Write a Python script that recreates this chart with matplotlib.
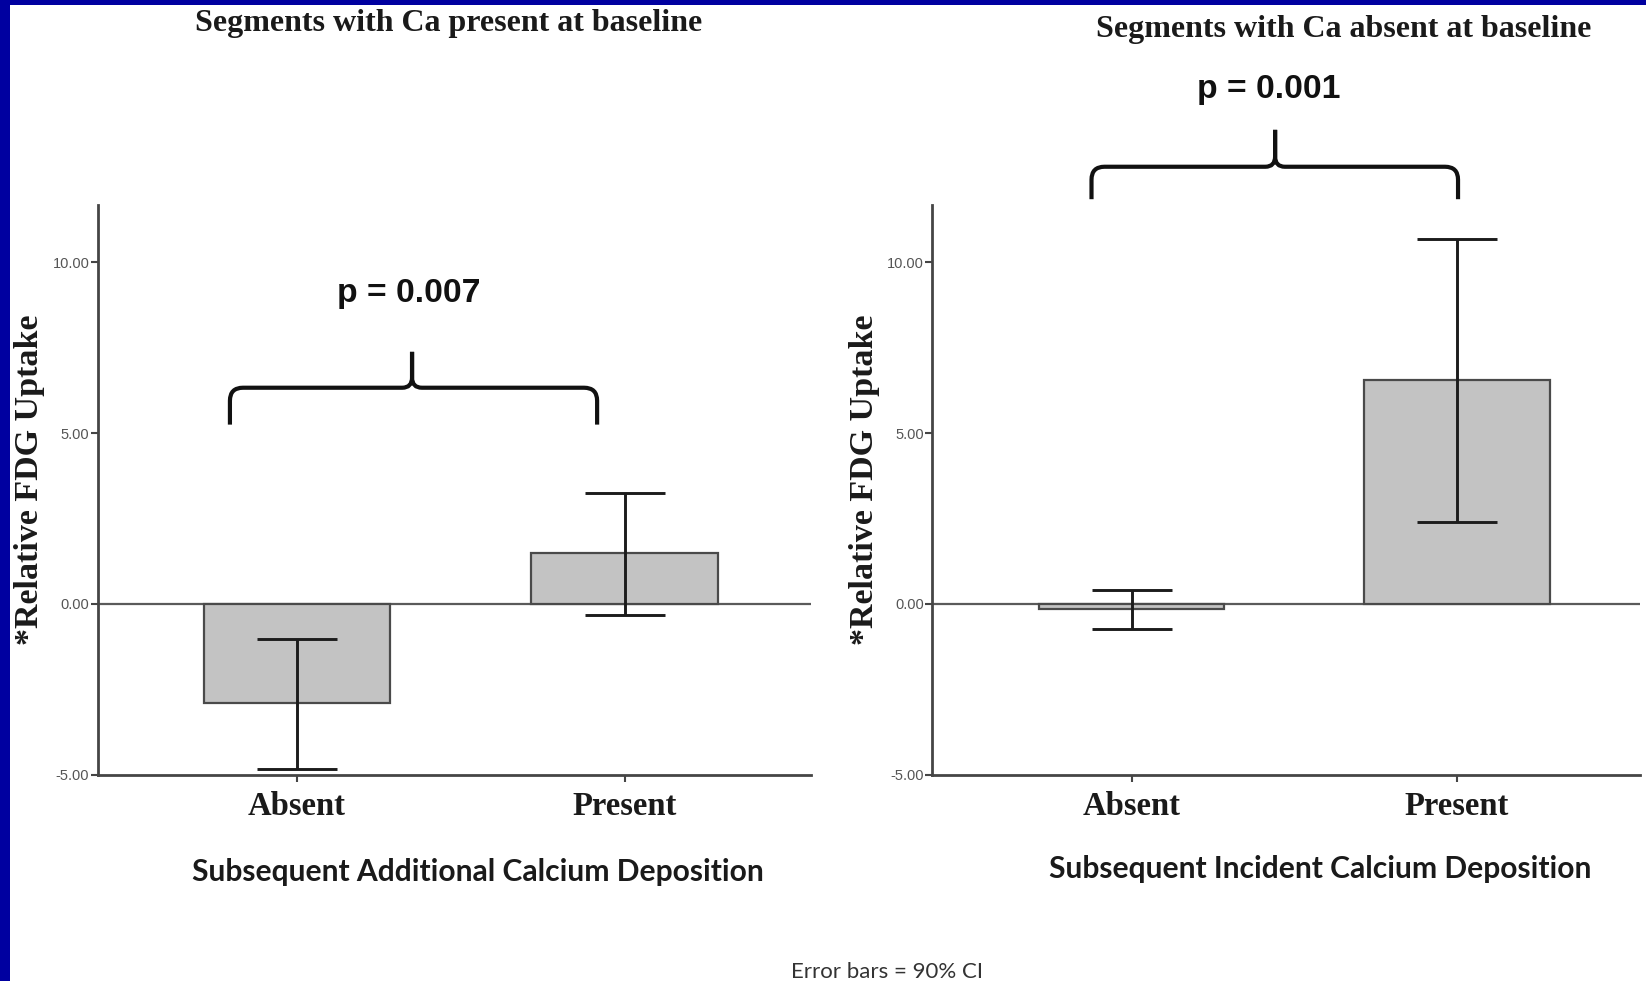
import matplotlib
matplotlib.use("Agg")
import matplotlib.pyplot as plt
from matplotlib.path import Path
from matplotlib.patches import PathPatch, Rectangle

# ---- data -------------------------------------------------------------
categories = ["Absent", "Present"]

left_means = [-2.90, 1.48]
left_ci_low = [-4.82, -0.32]
left_ci_high = [-1.04, 3.24]

right_means = [-0.14, 6.55]
right_ci_low = [-0.72, 2.41]
right_ci_high = [0.42, 10.67]

y_ticks = [-5.0, 0.0, 5.0, 10.0]
y_tick_labels = ["-5.00", "0.00", "5.00", "10.00"]

left_title = "Segments with Ca present at baseline"
right_title = "Segments with Ca absent at baseline"
left_xlabel = "Subsequent Additional Calcium Deposition"
right_xlabel = "Subsequent Incident Calcium Deposition"
ylabel = "*Relative FDG Uptake"
left_p = "p = 0.007"
right_p = "p = 0.001"
footnote = "Error bars = 90% CI"

# ---- styling ----------------------------------------------------------
SERIF = "Liberation Serif"
SANS = "Liberation Sans"
BAR_FACE = "#c3c3c3"
BAR_EDGE = "#4a4a4a"
AXIS_COLOR = "#454545"
BORDER_BLUE = "#0000a0"

W, H = 1646, 981
fig = plt.figure(figsize=(W / 100, H / 100), dpi=100)
fig.patch.set_facecolor("white")


def fx(px):
    return px / W


def fy(py):
    return 1 - py / H


Y_TOP_PX, Y_BOT_PX = 205, 774.7
YMIN = -5.0
YMAX = 11.68


def make_axes(left_px, right_px):
    return fig.add_axes([fx(left_px), fy(Y_BOT_PX), (right_px - left_px) / W,
                         (Y_BOT_PX - Y_TOP_PX) / H])


def style_axes(ax, xlim):
    ax.set_xlim(*xlim)
    ax.set_ylim(YMIN, YMAX)
    for s in ("top", "right"):
        ax.spines[s].set_visible(False)
    for s in ("left", "bottom"):
        ax.spines[s].set_color(AXIS_COLOR)
        ax.spines[s].set_linewidth(2.0)
    ax.set_yticks(y_ticks)
    ax.set_yticklabels(y_tick_labels, fontsize=10.5, color="#555555",
                       family=SANS)
    ax.tick_params(axis="y", direction="out", length=5, width=1.5,
                   color=AXIS_COLOR, pad=1)
    ax.set_xticks(range(len(categories)))
    ax.set_xticklabels(categories, fontsize=23.5, family=SERIF,
                       fontweight="bold", color="#1a1a1a")
    ax.tick_params(axis="x", direction="out", length=5, width=1.5,
                   color=AXIS_COLOR, pad=7)
    ax.axhline(0, color="#5a5a5a", lw=1.6, zorder=1)


def draw_bars(ax, means, lo, hi):
    x = list(range(len(categories)))
    ax.bar(x, means, width=0.57, color=BAR_FACE, edgecolor=BAR_EDGE,
           linewidth=1.6, zorder=2)
    yerr = [[m - l for m, l in zip(means, lo)],
            [h - m for m, h in zip(means, hi)]]
    ax.errorbar(x, means, yerr=yerr, fmt="none", ecolor="#1c1c1c",
                elinewidth=2.1, capsize=28.8, capthick=2.1, zorder=3)


def draw_brace(ax, x0, x1, xm, y_tip, y_bar, y_peak, rx, ry, cx, cy):
    M, L, C = Path.MOVETO, Path.LINETO, Path.CURVE3
    verts = [(x0, y_tip), (x0, y_bar - ry), (x0, y_bar), (x0 + rx, y_bar),
             (xm - cx, y_bar), (xm, y_bar), (xm, y_bar + cy), (xm, y_peak),
             (x1, y_tip), (x1, y_bar - ry), (x1, y_bar), (x1 - rx, y_bar),
             (xm + cx, y_bar), (xm, y_bar), (xm, y_bar + cy), (xm, y_peak)]
    codes = [M, L, C, C, L, C, C, L] * 2
    patch = PathPatch(Path(verts, codes), facecolor="none", edgecolor="#111111",
                      lw=3.0, capstyle="butt", joinstyle="round",
                      clip_on=False, zorder=4)
    ax.add_patch(patch)


# ---- left panel -------------------------------------------------------
ax1 = make_axes(97.6, 811)
style_axes(ax1, (-0.609, 1.569))
draw_bars(ax1, left_means, left_ci_low, left_ci_high)
draw_brace(ax1, -0.205, 0.916, 0.351, 5.25, 6.33, 7.38,
           0.04, 0.38, 0.03, 0.3)
ax1.text(0.34, 9.1, left_p, ha="center", va="center", fontsize=24.3,
         family=SANS, fontweight="bold", color="#111111")

# ---- right panel ------------------------------------------------------
ax2 = make_axes(932, 1640)
style_axes(ax2, (-0.613, 1.562))
draw_bars(ax2, right_means, right_ci_low, right_ci_high)
draw_brace(ax2, -0.123, 1.003, 0.441, 11.85, 12.80, 13.88,
           0.04, 0.38, 0.03, 0.3)
ax2.text(0.42, 15.05, right_p, ha="center", va="center", fontsize=24.3,
         family=SANS, fontweight="bold", color="#111111", clip_on=False)

# ---- titles and labels ------------------------------------------------
fig.text(fx(449), fy(23), left_title, ha="center", va="center", fontsize=23,
         family=SERIF, fontweight="bold", color="#1a1a1a")
fig.text(fx(1344), fy(29), right_title, ha="center", va="center", fontsize=23,
         family=SERIF, fontweight="bold", color="#1a1a1a")

for x_px in (30, 864):
    fig.text(fx(x_px), fy(480), ylabel, ha="center", va="center",
             rotation=90, fontsize=24.5, family=SERIF, fontweight="bold",
             color="#1a1a1a")

fig.text(fx(477.6), fy(872), left_xlabel, ha="center", va="center",
         fontsize=21.6, family="Lato", fontweight="bold", color="#1a1a1a")
fig.text(fx(1320.6), fy(869), right_xlabel, ha="center", va="center",
         fontsize=21.6, family="Lato", fontweight="bold", color="#1a1a1a")

fig.text(fx(887), fy(972), footnote, ha="center", va="center",
         fontsize=16, family="Lato", color="#333333")

# ---- blue frame along the left and top edges ---------------------------
fig.patches.append(Rectangle((0, 0), fx(10), 1, transform=fig.transFigure,
                             facecolor=BORDER_BLUE, edgecolor="none",
                             zorder=10))
fig.patches.append(Rectangle((0, fy(5)), 1, 5 / H, transform=fig.transFigure,
                             facecolor=BORDER_BLUE, edgecolor="none",
                             zorder=10))

fig.savefig("out.png", dpi=100, facecolor="white")
